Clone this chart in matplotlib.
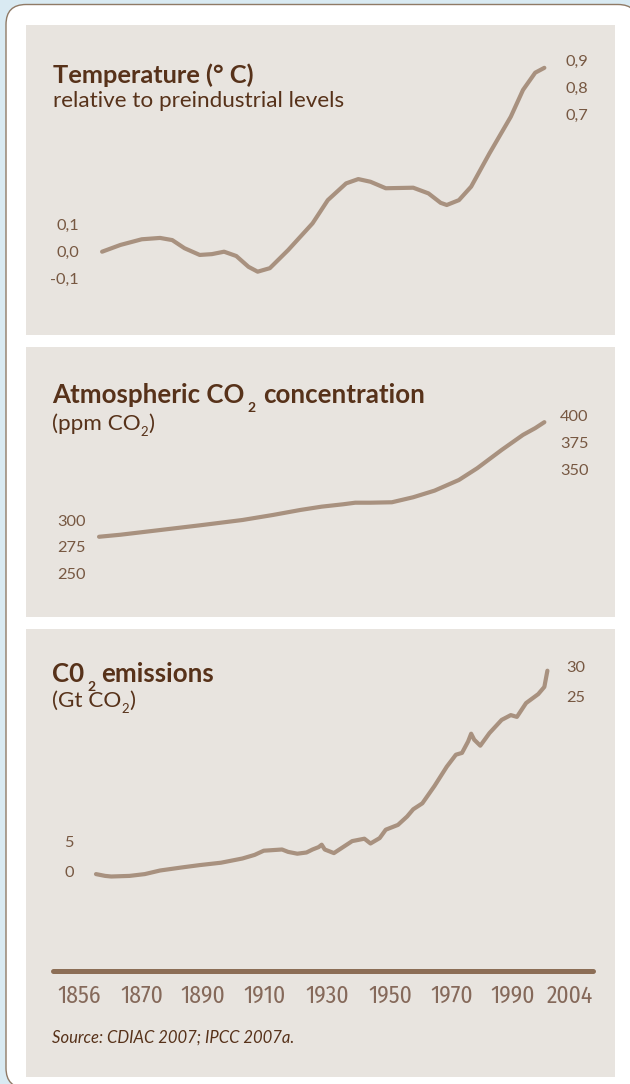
import matplotlib
matplotlib.use("Agg")
import matplotlib.pyplot as plt
from matplotlib import font_manager
from matplotlib.patches import FancyBboxPatch
from matplotlib.transforms import IdentityTransform

# temperature relative to preindustrial levels (deg C)
temp_years = [1858, 1864, 1871, 1877, 1881, 1885, 1890, 1894, 1898, 1902, 1906,
              1909, 1913, 1919, 1927, 1932, 1938, 1942, 1946, 1951, 1960, 1965,
              1969, 1971, 1975, 1979, 1985, 1992, 1996, 2000, 2003]
temp_values = [0.00, 0.025, 0.046, 0.051, 0.043, 0.013, -0.012, -0.009, 0.000,
               -0.016, -0.056, -0.074, -0.061, 0.006, 0.105, 0.191, 0.253, 0.269,
               0.259, 0.235, 0.237, 0.216, 0.181, 0.173, 0.191, 0.241, 0.364,
               0.500, 0.599, 0.663, 0.681]

# atmospheric CO2 (ppm)
co2_years = [1857, 1864, 1877, 1890, 1904, 1914, 1923, 1930, 1937, 1941, 1946,
             1953, 1960, 1967, 1975, 1981, 1989, 1996, 2000, 2003]
co2_ppm = [284.3, 286.2, 290.6, 295.0, 300.0, 304.7, 309.4, 312.5, 314.7, 316.2,
           316.2, 316.6, 321.3, 327.5, 337.5, 348.5, 365.6, 379.7, 386.0, 391.6]

# CO2 emissions (Gt CO2)
emis_years = [1856, 1859, 1861, 1867, 1872, 1877, 1884, 1890, 1897, 1904, 1908,
              1911, 1917, 1919, 1922, 1925, 1927, 1929, 1930, 1931, 1934, 1937,
              1940, 1944, 1946, 1949, 1951, 1955, 1958, 1960, 1963, 1967, 1971,
              1974, 1976, 1978, 1979, 1980, 1982, 1985, 1989, 1992, 1994, 1997,
              2001, 2003, 2004]
emis_gt = [-0.4, -0.7, -0.8, -0.7, -0.4, 0.2, 0.7, 1.1, 1.5, 2.2, 2.8, 3.5, 3.7,
           3.3, 3.0, 3.2, 3.7, 4.1, 4.5, 3.7, 3.1, 4.1, 5.1, 5.5, 4.7, 5.6, 7.0,
           7.8, 9.2, 10.4, 11.4, 14.3, 17.5, 19.5, 19.8, 21.7, 23.0, 22.0, 21.0,
           23.1, 25.3, 26.1, 25.8, 28.1, 29.6, 30.8, 33.5]

year_labels = ["1856", "1870", "1890", "1910", "1930", "1950", "1970", "1990", "2004"]
temp_left = [0.1, 0.0, -0.1]
temp_right = [0.9, 0.8, 0.7]
co2_left = [300, 275, 250]
co2_right = [400, 375, 350]
emis_left = [5, 0]
emis_right = [30, 25]

BLUE = "#d9eaf2"
BEIGE = "#e8e4df"
TITLE = "#57321a"
TICK = "#775842"
XLAB = "#85695a"
LINE = "#a8917f"
AXIS = "#8c6e56"
BORDER = "#8f7a66"

names = {f.name for f in font_manager.fontManager.ttflist}
NARROW = next((n for n in ["Fira Sans Condensed", "Asap Condensed",
                           "Liberation Sans Narrow"] if n in names), "Lato")

plt.rcParams["font.family"] = "Lato"

W, H = 630, 1084
fig = plt.figure(figsize=(W / 100, H / 100), dpi=100, facecolor=BLUE)
renderer = fig.canvas.get_renderer()

box = FancyBboxPatch((6, -4), 632, 1083.5, boxstyle="round,pad=0,rounding_size=20",
                     transform=IdentityTransform(), fc="white", ec=BORDER, lw=1, zorder=-5)
fig.add_artist(box)


def year_at(px):
    return 1856 + (px - 96) / 3.05


def panel(top, bottom, ref_v, ref_y, scale):
    ax = fig.add_axes([26 / W, 1 - bottom / H, (615 - 26) / W, (bottom - top) / H])
    ax.set_facecolor(BEIGE)
    for s in ax.spines.values():
        s.set_visible(False)
    ax.set_xlim(year_at(26), year_at(615))
    ax.set_ylim(ref_v + (ref_y - bottom) / scale, ref_v + (ref_y - top) / scale)
    ax.set_xticks([])
    return ax


def fmt(v, comma):
    return f"{v:.1f}".replace(".", ",") if comma else f"{v:g}"


def yticks(ax, left, right, offset, lpad, rpad, comma=False):
    ax.set_yticks(left, [fmt(v, comma) for v in left])
    ax.tick_params(axis="y", length=0, pad=lpad, labelsize=11.8, labelcolor=TICK)
    ax2 = ax.twinx()
    lo, hi = ax.get_ylim()
    ax2.set_ylim(lo + offset, hi + offset)
    for s in ax2.spines.values():
        s.set_visible(False)
    ax2.set_yticks(right, [fmt(v, comma) for v in right])
    ax2.tick_params(axis="y", length=0, pad=rpad, labelsize=11.8, labelcolor=TICK)
    return ax2


def label(x, y, s, **kw):
    return fig.text(x / W, 1 - y / H, s, va="baseline", color=TITLE, **kw)


def rich(x, y, parts, weight="normal"):
    # parts: (text, drop in px, size in pt, gap after in px)
    cur = x
    for s, dy, size, gap in parts:
        t = label(cur, y + dy, s, fontsize=size, fontweight=weight)
        cur += t.get_window_extent(renderer).width + gap


# temperature
ax1 = panel(25, 335, 0.0, 251.7, 270)
ax1.plot(temp_years, temp_values, color=LINE, lw=3, solid_capstyle="round",
         solid_joinstyle="round")
yticks(ax1, temp_left, temp_right, 0.19, -38.2, -35.5, comma=True)
label(53, 83, "Temperature (° C)", fontsize=18.3, fontweight="bold")
label(53, 107, "relative to preindustrial levels", fontsize=16.2)

# CO2 concentration
ax2 = panel(347, 617, 300, 520, 1.068)
ax2.plot(co2_years, co2_ppm, color=LINE, lw=3, solid_capstyle="round",
         solid_joinstyle="round")
yticks(ax2, co2_left, co2_right, 2.5, -43.2, -39.6)
rich(52, 403, [("Atmospheric CO", 0, 18.6, 3), ("2", 9, 10, 8),
               ("concentration", 0, 18.6, 0)], weight="bold")
rich(52, 430, [("(ppm CO", 0, 16.2, 0), ("2", 6, 9.5, 0), (")", 0, 16.2, 0)])

# emissions
ax3 = panel(629, 1077, 0, 871.7, 6)
ax3.plot(emis_years, emis_gt, color=LINE, lw=3, solid_capstyle="round",
         solid_joinstyle="round")
yticks(ax3, emis_left, emis_right, -4.17, -34.6, -35.3)
rich(52, 682, [("C0", 0, 18.6, 3), ("2", 9, 10, 6), ("emissions", 0, 18.6, 0)],
     weight="bold")
rich(52, 707, [("(Gt CO", 0, 16.2, 0), ("2", 6, 9.5, 0), (")", 0, 16.2, 0)])

sp = ax3.spines["bottom"]
sp.set_visible(True)
sp.set_position(("data", (871.7 - 971) / 6))
sp.set_bounds(year_at(53), year_at(593))
sp.set_linewidth(3.6)
sp.set_color(AXIS)
sp.set_capstyle("round")
label_px = [79, 142, 203, 265, 327, 390, 452, 513, 570]
ax3.set_xticks([year_at(p) for p in label_px], year_labels)
ax3.tick_params(axis="x", length=0, pad=10, labelsize=17, labelcolor=XLAB)
for t in ax3.get_xticklabels():
    t.set_fontfamily(NARROW)

label(52, 1042.7, "Source: CDIAC 2007; IPCC 2007a.", fontsize=12, style="italic")

fig.savefig("out.png", dpi=100)
